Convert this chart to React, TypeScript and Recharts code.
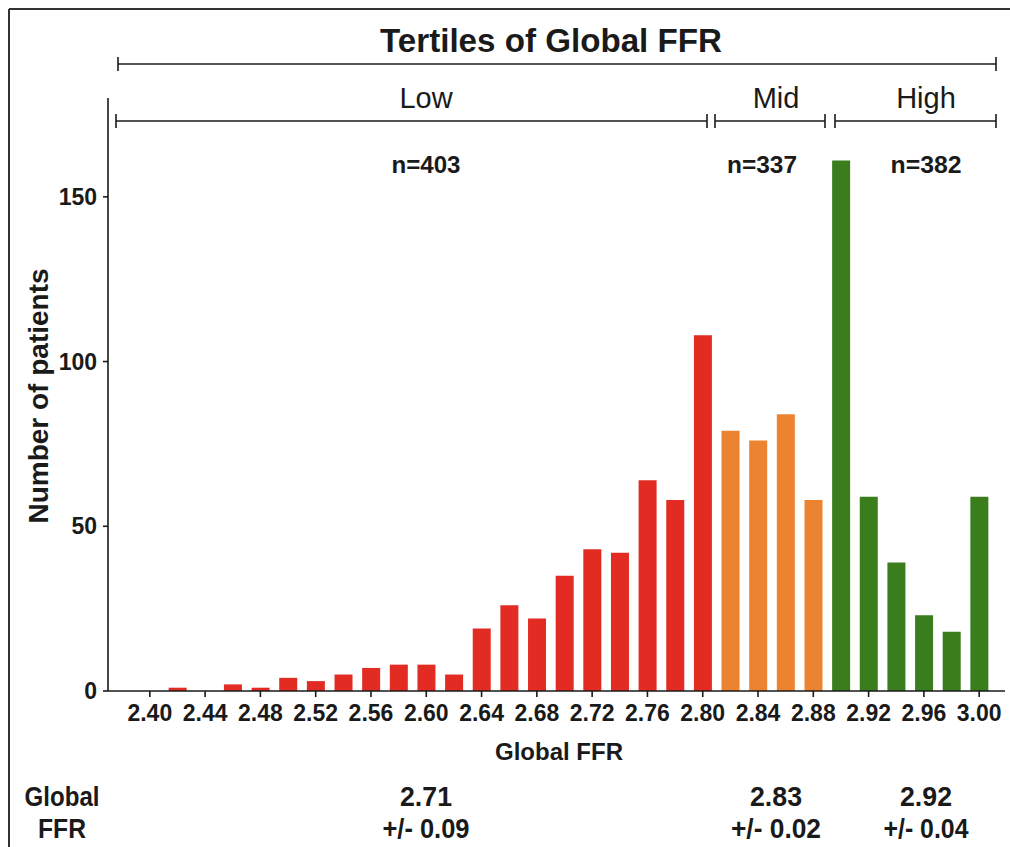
import React from 'react';
import { BarChart, Bar, XAxis, YAxis, Cell } from 'recharts';

// Global FFR bins (0.02 wide) and patient counts
const ffrBins = [
  '2.40', '2.42', '2.44', '2.46', '2.48', '2.50', '2.52', '2.54', '2.56', '2.58',
  '2.60', '2.62', '2.64', '2.66', '2.68', '2.70', '2.72', '2.74', '2.76', '2.78',
  '2.80', '2.82', '2.84', '2.86', '2.88', '2.90', '2.92', '2.94', '2.96', '2.98', '3.00'
];
const patientCounts = [
  0, 1, 0, 2, 1, 4, 3, 5, 7, 8,
  8, 5, 19, 26, 22, 35, 43, 42, 64, 58,
  108, 79, 76, 84, 58, 161, 59, 39, 23, 18, 59
];
const tertileOfBin = [
  'Low', 'Low', 'Low', 'Low', 'Low', 'Low', 'Low', 'Low', 'Low', 'Low',
  'Low', 'Low', 'Low', 'Low', 'Low', 'Low', 'Low', 'Low', 'Low', 'Low',
  'Low', 'Mid', 'Mid', 'Mid', 'Mid', 'High', 'High', 'High', 'High', 'High', 'High'
];
const yTicks = [0, 50, 100, 150];

const tertileNames = ['Low', 'Mid', 'High'];
const tertileCounts = ['n=403', 'n=337', 'n=382'];
const tertileMeans = ['2.71', '2.83', '2.92'];
const tertileSds = ['+/- 0.09', '+/- 0.02', '+/- 0.04'];

const tertileColors: Record<string, string> = {
  Low: '#e12b23',
  Mid: '#ec8330',
  High: '#3a7d1c'
};

const chartData = ffrBins.map((ffr, i) => ({
  ffr,
  count: patientCounts[i],
  tertile: tertileOfBin[i]
}));

const SANS = '"Liberation Sans", Arial, Helvetica, sans-serif';
const NARROW = '"Liberation Sans Narrow", "Arial Narrow", "Liberation Sans", Arial, sans-serif';
const INK = '#1a1a1a';

// annotation layout (pixels)
const bracketY = 121;
const tertileSpans = [
  { x1: 116, x2: 707, cx: 426, nx: 426 },
  { x1: 715, x2: 825, cx: 776, nx: 762 },
  { x1: 835, x2: 996, cx: 926, nx: 926 }
];
const nWidths = [69, 70, 71];
const meanWidths = [52, 52, 52];
const sdWidths = [87, 90, 85];

const Bracket = ({ x1, x2, y }: { x1: number; x2: number; y: number }) => (
  <g stroke={INK} strokeWidth={1.6}>
    <line x1={x1} y1={y} x2={x2} y2={y} />
    <line x1={x1} y1={y - 7} x2={x1} y2={y + 7} />
    <line x1={x2} y1={y - 7} x2={x2} y2={y + 7} />
  </g>
);

const Overlay = () => (
  <svg
    width={1010}
    height={847}
    style={{ position: 'absolute', left: 0, top: 0, pointerEvents: 'none' }}
  >
    {/* frame */}
    <line x1={9} y1={9} x2={1010} y2={9} stroke="#333" strokeWidth={2} />
    <line x1={9} y1={9} x2={9} y2={847} stroke="#333" strokeWidth={2} />

    <text x={551} y={52} textAnchor="middle" fontFamily={NARROW} fontWeight="bold"
      fontSize={34} fill={INK} textLength={342} lengthAdjust="spacingAndGlyphs">
      Tertiles of Global FFR
    </text>
    <Bracket x1={118} x2={996} y={64} />

    {tertileSpans.map((s, i) => (
      <g key={tertileNames[i]}>
        <text x={s.cx} y={108} textAnchor="middle" fontFamily={NARROW} fontSize={29} fill={INK}>
          {tertileNames[i]}
        </text>
        <Bracket x1={s.x1} x2={s.x2} y={bracketY} />
        <text x={s.nx} y={173} textAnchor="middle" fontFamily={NARROW} fontWeight="bold"
          fontSize={24} fill={INK} textLength={nWidths[i]} lengthAdjust="spacingAndGlyphs">
          {tertileCounts[i]}
        </text>
        <text x={s.cx} y={806} textAnchor="middle" fontFamily={NARROW} fontWeight="bold"
          fontSize={28} fill={INK} textLength={meanWidths[i]} lengthAdjust="spacingAndGlyphs">
          {tertileMeans[i]}
        </text>
        <text x={s.cx} y={838} textAnchor="middle" fontFamily={NARROW} fontWeight="bold"
          fontSize={28} fill={INK} textLength={sdWidths[i]} lengthAdjust="spacingAndGlyphs">
          {tertileSds[i]}
        </text>
      </g>
    ))}

    <text x={62} y={806} textAnchor="middle" fontFamily={NARROW} fontWeight="bold"
      fontSize={28} fill={INK} textLength={75} lengthAdjust="spacingAndGlyphs">
      Global
    </text>
    <text x={62} y={838} textAnchor="middle" fontFamily={NARROW} fontWeight="bold"
      fontSize={28} fill={INK} textLength={48} lengthAdjust="spacingAndGlyphs">
      FFR
    </text>

    {/* axis titles */}
    <text x={559} y={760} textAnchor="middle" fontFamily={SANS} fontWeight="bold"
      fontSize={24} fill={INK}>
      Global FFR
    </text>
    <text x={0} y={0} transform="translate(48 396) rotate(-90)" textAnchor="middle"
      fontFamily={SANS} fontWeight="bold" fontSize={28} fill={INK}>
      Number of patients
    </text>
  </svg>
);

export default function App() {
  const tickStyle = { fontFamily: SANS, fontWeight: 'bold', fontSize: 23, fill: INK };
  return (
    <div style={{ position: 'absolute', left: 0, top: 0, width: 1010, height: 847, background: '#fff' }}>
      <BarChart
        width={1010}
        height={847}
        data={chartData}
        margin={{ top: 98, right: 5, bottom: 126, left: 48 }}
        barSize={18}
      >
        <XAxis
          dataKey="ffr"
          interval={1}
          height={30}
          padding={{ left: 28, right: 12 }}
          tick={tickStyle}
          tickSize={6}
          tickMargin={8}
          axisLine={{ stroke: INK, strokeWidth: 1.6 }}
          tickLine={{ stroke: INK, strokeWidth: 1.6 }}
        />
        <YAxis
          width={60}
          domain={[0, 180]}
          ticks={yTicks}
          allowDataOverflow
          tick={tickStyle}
          tickSize={5}
          tickMargin={6}
          axisLine={{ stroke: INK, strokeWidth: 1.6 }}
          tickLine={{ stroke: INK, strokeWidth: 1.6 }}
        />
        <Bar dataKey="count" isAnimationActive={false}>
          {chartData.map((d, i) => (
            <Cell key={`bar-${i}`} fill={tertileColors[d.tertile]} />
          ))}
        </Bar>
      </BarChart>
      <Overlay />
    </div>
  );
}
